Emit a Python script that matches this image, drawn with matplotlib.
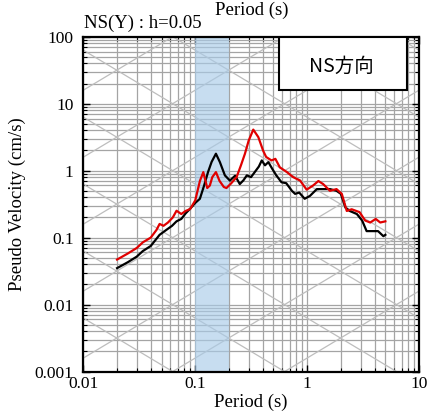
import numpy as np
import matplotlib
matplotlib.use("Agg")
import matplotlib.pyplot as plt
from matplotlib.patches import Rectangle

plt.rcParams.update({
    'font.family': ['Liberation Serif', 'DejaVu Serif'],
    'font.size': 12,
})

# observed spectrum (black)
period_k = [0.02, 0.025, 0.03, 0.034, 0.04, 0.048, 0.055, 0.062, 0.068, 0.075,
            0.082, 0.09, 0.1, 0.11, 0.12, 0.13, 0.14, 0.153, 0.166, 0.184,
            0.204, 0.227, 0.25, 0.27, 0.289, 0.315, 0.34, 0.37, 0.393, 0.42,
            0.45, 0.49, 0.53, 0.59, 0.65, 0.73, 0.78, 0.85, 0.95, 1.06,
            1.22, 1.39, 1.6, 1.83, 2.0, 2.2, 2.4, 2.78, 3.1, 3.4,
            3.9, 4.3, 4.8, 5.0]
pv_k = [0.035, 0.043, 0.052, 0.063, 0.075, 0.11, 0.13, 0.15, 0.175, 0.19,
        0.23, 0.27, 0.33, 0.38, 0.6, 0.95, 1.35, 1.79, 1.34, 0.85,
        0.71, 0.84, 0.63, 0.72, 0.85, 0.8, 0.95, 1.15, 1.42, 1.2,
        1.34, 1.05, 0.85, 0.67, 0.65, 0.50, 0.45, 0.47, 0.38, 0.42,
        0.53, 0.53, 0.53, 0.50, 0.45, 0.28, 0.25, 0.225, 0.18, 0.125,
        0.125, 0.125, 0.105, 0.11]

# red spectrum
period_r = [0.02, 0.025, 0.03, 0.034, 0.04, 0.045, 0.048, 0.052, 0.057, 0.063,
            0.068, 0.075, 0.082, 0.09, 0.1, 0.11, 0.118, 0.128, 0.135, 0.142,
            0.153, 0.165, 0.18, 0.19, 0.21, 0.234, 0.256, 0.278, 0.3, 0.33,
            0.366, 0.405, 0.43, 0.48, 0.52, 0.57, 0.66, 0.75, 0.865, 0.99,
            1.13, 1.26, 1.39, 1.6, 1.83, 2.04, 2.26, 2.5, 2.94, 3.3,
            3.66, 4.1, 4.5, 5.0]
pv_r = [0.047, 0.058, 0.07, 0.085, 0.1, 0.13, 0.16, 0.15, 0.168, 0.2,
        0.252, 0.225, 0.25, 0.267, 0.36, 0.7, 0.95, 0.55, 0.6, 0.8,
        0.95, 0.7, 0.57, 0.55, 0.65, 0.8, 1.2, 1.79, 2.8, 4.1,
        3.17, 1.97, 1.6, 1.42, 1.5, 1.12, 0.95, 0.80, 0.71, 0.52,
        0.60, 0.70, 0.63, 0.50, 0.53, 0.45, 0.25, 0.265, 0.24, 0.18,
        0.168, 0.19, 0.168, 0.175]

band = (0.1, 0.2)

fig = plt.figure(figsize=(4.32, 4.17), dpi=100)
ax = fig.add_axes([0.193, 0.109, 0.777, 0.803])
ax.set_xscale('log')
ax.set_yscale('log')
ax.set_xlim(0.01, 10)
ax.set_ylim(0.001, 100)

ax.grid(True, which='both', color='#a4a4a4', lw=0.9)
ax.set_axisbelow(True)

# tripartite diagonals (displacement / acceleration)
tt = np.logspace(-2, 1, 50)
for k in range(-6, 4):
    ax.plot(tt, 2 * np.pi * 10.0**k / tt, color='#bdbdbd', lw=0.9, zorder=1)
for k in range(-2, 7):
    ax.plot(tt, 10.0**k * tt / (2 * np.pi), color='#bdbdbd', lw=0.9, zorder=1)

ax.axvspan(*band, color='#a9cbe8', alpha=0.65, lw=0, zorder=1.5)

ax.plot(period_k, pv_k, color='black', lw=1.6, zorder=3)
ax.plot(period_r, pv_r, color='#e00000', lw=1.6, zorder=3)

ax.tick_params(which='both', direction='in', top=True, right=True)
ax.tick_params(which='major', length=5, width=1)
ax.tick_params(which='minor', length=3, width=0.8)
ax.set_xticks([0.01, 0.1, 1, 10])
ax.set_xticklabels(['0.01', '0.1', '1', '10'])
ax.set_yticks([0.001, 0.01, 0.1, 1, 10, 100])
ax.set_yticklabels(['0.001', '0.01', '0.1', '1', '10', '100'])
ax.tick_params(axis='both', labelsize=12.5)
ax.tick_params(axis='y', pad=7)
for s in ax.spines.values():
    s.set_linewidth(1.6)

ax.set_xlabel('Period (s)', fontsize=13.5, labelpad=1)
ax.set_ylabel('Pseudo Velocity (cm/s)', fontsize=13.5)
ax.yaxis.set_label_coords(-0.171, 0.5)
fig.text(0.583, 0.975, 'Period (s)', ha='center', va='center', fontsize=13.5)
fig.text(0.33, 0.945, 'NS(Y) : h=0.05', ha='center', va='center', fontsize=13.5)

ax.add_patch(Rectangle((0.583, 0.84), 0.38, 0.16, transform=ax.transAxes,
                       facecolor='white', edgecolor='black', lw=1.5, zorder=5))
ax.text(0.768, 0.912, 'NS方向', transform=ax.transAxes, ha='center', va='center',
        fontsize=14, family=['Noto Sans CJK JP', 'DejaVu Sans'], zorder=6)

fig.savefig('out.png', dpi=100)
